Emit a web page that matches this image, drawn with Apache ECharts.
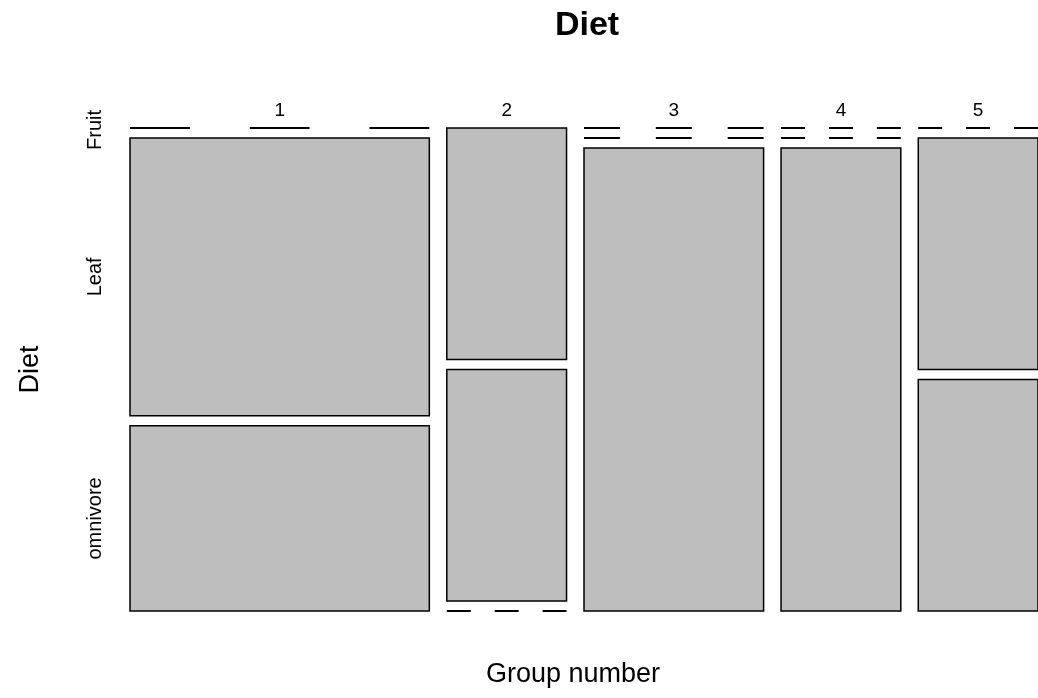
<!DOCTYPE html>
<html>
<head>
<meta charset="utf-8">
<script src="https://cdn.jsdelivr.net/npm/echarts@6/dist/echarts.min.js"></script>
<style>
  html, body { margin: 0; padding: 0; background: #fff; }
  #chart { width: 1038px; height: 698px; }
</style>
</head>
<body>
<div id="chart"></div>
<script>
// mosaic of Group number x Diet
const groups = ['1', '2', '3', '4', '5']
const dietLevels = ['Fruit', 'Leaf', 'omnivore']
const fruitCounts = [0, 1, 0, 0, 0]
const leafCounts = [3, 1, 0, 0, 1]
const omnivoreCounts = [2, 0, 3, 2, 1]

const counts = [fruitCounts, leafCounts, omnivoreCounts]
const GAP_X = 0.2917  // gap between columns, in count units
const GAP_Y = 0.0216  // gap between rows, in proportion units
const FONT = '"Liberation Sans", Arial, Helvetica, sans-serif'

let totals = groups.map((g, i) => counts.reduce((s, row) => s + row[i], 0))
let xStart = []
let acc = 0
totals.forEach((t, i) => {
  xStart.push(acc + i * GAP_X)
  acc += t
})
const xMax = acc + (groups.length - 1) * GAP_X
const yMax = 1 + (dietLevels.length - 1) * GAP_Y

let cells = []
groups.forEach((g, i) => {
  dietLevels.forEach((d, j) => {
    cells.push([i, j])
  })
})

function renderCell (params, api) {
  let i = api.value(0)
  let j = api.value(1)
  let tot = totals[i]
  let n = counts[j][i]
  let before = 0
  for (let k = 0; k < j; k++) before += counts[k][i] / tot
  let x0 = xStart[i]
  let x1 = x0 + tot
  let y0 = before + j * GAP_Y
  let y1 = y0 + n / tot
  let p0 = api.coord([x0, y0])
  let p1 = api.coord([x1, y1])
  let children = []
  if (n > 0) {
    children.push({
      type: 'rect',
      shape: { x: p0[0], y: p0[1], width: p1[0] - p0[0], height: p1[1] - p0[1] },
      style: { fill: '#bebebe', stroke: '#000', lineWidth: 1.5 }
    })
  } else {
    let w = p1[0] - p0[0]
    children.push({
      type: 'line',
      shape: { x1: p0[0], y1: p0[1], x2: p1[0], y2: p0[1] },
      style: { stroke: '#000', lineWidth: 2, lineDash: [w / 5, w / 5] }
    })
  }
  if (j === 0) {
    let top = api.coord([x0, 0])[1]
    children.push({
      type: 'text',
      x: (p0[0] + p1[0]) / 2,
      y: top - 17,
      style: {
        text: groups[i], fill: '#000', font: '19px ' + FONT,
        textAlign: 'center', textVerticalAlign: 'middle'
      }
    })
  }
  if (i === 0) {
    children.push({
      type: 'text',
      x: p0[0] - 35,
      y: (p0[1] + p1[1]) / 2 + (n > 0 ? 0 : 2),
      rotation: Math.PI / 2,
      style: {
        text: dietLevels[j], fill: '#000', font: '20px ' + FONT,
        textAlign: 'center', textVerticalAlign: 'middle'
      }
    })
  }
  return { type: 'group', children: children }
}

let chart = echarts.init(document.getElementById('chart'), null, { renderer: 'canvas' })
let option = {
  backgroundColor: '#fff',
  animation: false,
  graphic: [{
    type: 'text',
    x: 587,
    y: 26,
    style: {
      text: 'Diet', fill: '#000', font: 'bold 34px ' + FONT,
      textAlign: 'center', textVerticalAlign: 'middle'
    }
  }, {
    type: 'text',
    x: 573,
    y: 675,
    style: {
      text: 'Group number', fill: '#000', font: '27px ' + FONT,
      textAlign: 'center', textVerticalAlign: 'middle'
    }
  }],
  grid: { left: 130, top: 128, width: 910, height: 483 },
  xAxis: {
    type: 'value',
    min: 0,
    max: xMax,
    axisLine: { show: false },
    axisTick: { show: false },
    axisLabel: { show: false },
    splitLine: { show: false }
  },
  yAxis: {
    type: 'value',
    min: 0,
    max: yMax,
    inverse: true,
    name: 'Diet',
    nameLocation: 'middle',
    nameGap: 86,
    nameTextStyle: { color: '#000', fontSize: 27, fontFamily: FONT },
    axisLine: { show: false },
    axisTick: { show: false },
    axisLabel: { show: false },
    splitLine: { show: false }
  },
  series: [{
    type: 'custom',
    renderItem: renderCell,
    clip: false,
    data: cells
  }]
}
chart.setOption(option)
</script>
</body>
</html>
